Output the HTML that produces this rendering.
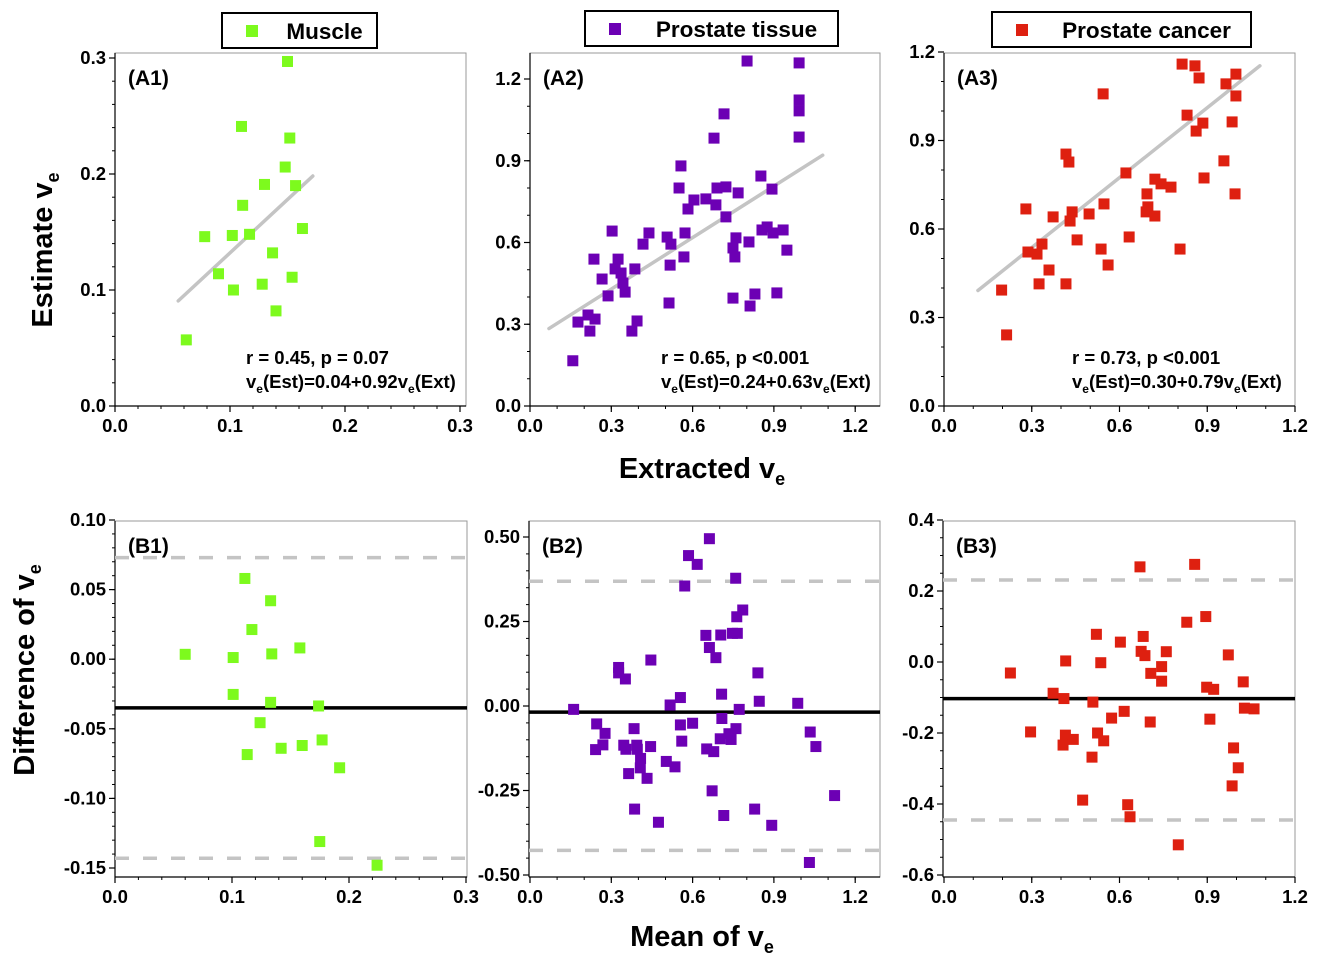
<!DOCTYPE html>
<html><head><meta charset="utf-8">
<style>
html,body{margin:0;padding:0;background:#fff;}
svg{display:block;font-family:"Liberation Sans",Arial,sans-serif;font-weight:bold;}
</style></head>
<body>
<svg id="fig" width="1322" height="972" viewBox="0 0 1322 972" xmlns="http://www.w3.org/2000/svg"></svg>
<script>
// ---------- DATA ----------
const a1X=[0.062,0.078,0.090,0.102,0.103,0.110,0.111,0.117,0.128,0.130,0.137,0.140,0.148,0.152,0.154,0.157,0.163,0.150];
const a1Y=[0.057,0.146,0.114,0.147,0.100,0.241,0.173,0.148,0.105,0.191,0.132,0.082,0.206,0.231,0.111,0.190,0.153,0.297];
const a2X=[0.158,0.177,0.214,0.221,0.240,0.236,0.266,0.288,0.303,0.314,0.325,0.336,0.343,0.351,0.376,0.395,0.387,0.417,0.439,0.506,0.520,0.517,0.513,0.550,0.557,0.568,0.572,0.583,0.605,0.649,0.679,0.686,0.690,0.716,0.723,0.723,0.749,0.760,0.756,0.749,0.768,0.801,0.808,0.812,0.830,0.852,0.856,0.875,0.893,0.897,0.911,0.934,0.948,0.993,0.993,0.993,0.993];
const a2Y=[0.166,0.308,0.334,0.275,0.319,0.539,0.466,0.404,0.642,0.503,0.539,0.488,0.451,0.418,0.275,0.312,0.503,0.594,0.635,0.620,0.594,0.517,0.378,0.800,0.881,0.547,0.635,0.723,0.756,0.760,0.983,0.738,0.800,1.072,0.804,0.694,0.580,0.617,0.547,0.396,0.782,1.266,0.602,0.367,0.411,0.844,0.646,0.657,0.796,0.635,0.415,0.646,0.572,1.259,1.123,1.083,0.987];
const a3X=[0.197,0.214,0.280,0.287,0.318,0.335,0.325,0.359,0.373,0.417,0.427,0.431,0.438,0.455,0.417,0.496,0.537,0.547,0.544,0.561,0.622,0.633,0.694,0.697,0.691,0.721,0.721,0.742,0.776,0.807,0.814,0.831,0.858,0.872,0.862,0.885,0.889,0.957,0.964,0.998,0.998,0.985,0.995];
const a3Y=[0.393,0.241,0.668,0.522,0.515,0.549,0.414,0.461,0.641,0.854,0.827,0.627,0.658,0.563,0.414,0.651,0.532,0.685,1.058,0.478,0.790,0.573,0.719,0.675,0.658,0.644,0.769,0.753,0.742,0.532,1.159,0.986,1.153,1.112,0.932,0.959,0.773,0.831,1.092,1.125,1.051,0.963,0.719];
const b1X=[0.060,0.111,0.133,0.117,0.101,0.134,0.158,0.101,0.133,0.174,0.124,0.113,0.142,0.160,0.177,0.192,0.175,0.224];
const b1Y=[0.0035,0.058,0.042,0.0213,0.0012,0.0038,0.0081,-0.0253,-0.031,-0.0336,-0.0456,-0.0685,-0.064,-0.062,-0.058,-0.078,-0.131,-0.148];
const b2X=[0.662,0.585,0.617,0.571,0.759,0.785,0.763,0.649,0.704,0.747,0.765,0.662,0.686,0.446,0.327,0.327,0.352,0.841,0.707,0.555,0.517,0.846,0.988,0.161,0.772,0.246,0.277,0.269,0.242,0.384,0.346,0.354,0.394,0.396,0.408,0.407,0.432,0.364,0.445,0.386,0.474,0.503,0.535,0.555,0.560,0.600,0.652,0.678,0.672,0.715,0.708,0.702,0.734,0.742,0.760,0.829,0.892,1.034,1.055,1.124,1.031];
const b2Y=[0.495,0.445,0.419,0.355,0.378,0.284,0.264,0.209,0.210,0.215,0.215,0.173,0.143,0.136,0.114,0.098,0.080,0.098,0.035,0.025,0.003,0.014,0.008,-0.010,-0.010,-0.053,-0.081,-0.115,-0.129,-0.067,-0.116,-0.128,-0.116,-0.128,-0.155,-0.183,-0.214,-0.200,-0.120,-0.305,-0.344,-0.164,-0.180,-0.056,-0.104,-0.051,-0.127,-0.135,-0.251,-0.324,-0.037,-0.097,-0.082,-0.099,-0.067,-0.305,-0.353,-0.077,-0.120,-0.265,-0.463];
const b3X=[0.670,0.857,0.895,0.830,0.521,0.681,0.603,0.674,0.687,0.760,0.972,0.416,0.536,0.227,0.744,0.707,0.744,1.023,0.898,0.922,0.373,0.410,0.509,1.027,1.060,0.616,0.573,0.909,0.705,0.296,0.415,0.442,0.525,0.546,0.407,0.506,0.990,1.006,0.985,0.474,0.628,0.636,0.801];
const b3Y=[0.268,0.275,0.128,0.112,0.078,0.072,0.056,0.030,0.018,0.029,0.020,0.003,-0.002,-0.031,-0.013,-0.032,-0.054,-0.056,-0.071,-0.077,-0.088,-0.103,-0.113,-0.130,-0.132,-0.139,-0.158,-0.161,-0.169,-0.197,-0.206,-0.218,-0.200,-0.222,-0.234,-0.268,-0.242,-0.298,-0.349,-0.389,-0.402,-0.436,-0.515];
const fitA1=[0.04,0.92], fitA2=[0.24,0.63], fitA3=[0.30,0.79];
const fitRangeA1=[0.055,0.172], fitRangeA2=[0.07,1.08], fitRangeA3=[0.116,1.08];
const meanB=[-0.035,-0.018,-0.103];
const loaB1=[0.073,-0.143], loaB2=[0.369,-0.427], loaB3=[0.231,-0.445];
const ticksSmall=["0.0","0.1","0.2","0.3"];
const ticksBig=["0.0","0.3","0.6","0.9","1.2"];
const ticksB1Y=["0.10","0.05","0.00","-0.05","-0.10","-0.15"];
const ticksB2Y=["0.50","0.25","0.00","-0.25","-0.50"];
const ticksB3Y=["0.4","0.2","0.0","-0.2","-0.4","-0.6"];

const NS="http://www.w3.org/2000/svg";
const svg=document.getElementById('fig');
function mk(tag,attrs,parent){const e=document.createElementNS(NS,tag);for(const k in attrs)e.setAttribute(k,attrs[k]);(parent||svg).appendChild(e);return e;}

const GREEN="#7dfa1d",PURPLE="#6c00b4",RED="#de2010";

function panel(o){
  const g=mk('g',{});
  
  
  const X=v=>o.x0+v*o.xs, Y=v=>o.y0-v*o.ys;
  const fr=mk('rect',{x:o.L,y:o.T,width:o.R-o.L,height:o.B-o.T,fill:'none',stroke:'#999','stroke-width':1},g);
  
  
  const ax=mk('line',{x1:o.L,y1:o.B,x2:o.R,y2:o.B,stroke:'#000','stroke-width':1.2},g);
  
  
  const ay=mk('line',{x1:o.L,y1:o.T,x2:o.L,y2:o.B,stroke:'#000','stroke-width':1.2},g);
  
  
  for(let v=0;v<=o.xmaxT+1e-9;v+=o.xminor){const px=X(v);if(px>o.R+1)break;mk('line',{x1:px,y1:o.B,x2:px,y2:o.B+3,stroke:'#000'},g);}
  o.xl.forEach((t,i)=>{const v=i*o.xstep,px=X(v);
    mk('line',{x1:px,y1:o.B,x2:px,y2:o.B+6,stroke:'#000','stroke-width':1.2},g);
    const tx=mk('text',{x:px,y:o.B+26,'text-anchor':'middle','font-size':18.5},g);tx.textContent=t;
    
    });
  for(let v=o.ymin;v<=o.ymaxT+1e-9;v+=o.yminor){const py=Y(v);mk('line',{x1:o.L,y1:py,x2:o.L-3,y2:py,stroke:'#000'},g);}
  o.yl.forEach((t,i)=>{const v=o.ytop-i*o.ystep,py=Y(v);
    mk('line',{x1:o.L,y1:py,x2:o.L-6,y2:py,stroke:'#000','stroke-width':1.2},g);
    const tx=mk('text',{x:o.L-9,y:py+6,'text-anchor':'end','font-size':18.5},g);tx.textContent=t;
    
    });
  if(o.fit){const l=mk('line',{x1:X(o.fr[0]),y1:Y(o.fit[0]+o.fit[1]*o.fr[0]),x2:X(o.fr[1]),y2:Y(o.fit[0]+o.fit[1]*o.fr[1]),stroke:'#c4c4c4','stroke-width':3.5,'stroke-linecap':'round'},g);
    
    }
  if(o.loa){o.loa.forEach(v=>{const l=mk('line',{x1:o.L,y1:Y(v),x2:o.R,y2:Y(v),stroke:'#c4c4c4','stroke-width':3.5,'stroke-dasharray':'14 14'},g);
    
    });
    const m=mk('line',{x1:o.L,y1:Y(o.mean),x2:o.R,y2:Y(o.mean),stroke:'#000','stroke-width':3.5},g);
    
    }
  o.xs_.forEach((xv,i)=>{const r=mk('rect',{x:X(xv)-5.5,y:Y(o.ys_[i])-5.5,width:11,height:11,fill:o.color},g);
    
    });
  const lb=mk('text',{x:o.L+13,y:o.T+32,'font-size':21},g);lb.textContent=o.label;
  
  
  if(o.stats){
    const s1=mk('text',{x:o.sx,y:364,'font-size':18.5},g);s1.textContent=o.stats[0];
    
    
    const s2=mk('text',{x:o.sx,y:388,'font-size':18.5},g);
    s2.innerHTML='v<tspan font-size="12" dy="5">e</tspan><tspan dy="-5">(Est)='+o.stats[1]+'v</tspan><tspan font-size="12" dy="5">e</tspan><tspan dy="-5">(Ext)</tspan>';
    
    
  }
}

const small={x0:115,xs:1150,xminor:0.02,xstep:0.1,xmaxT:0.3,xl:ticksSmall};
const big2={x0:530,xs:271,xminor:0.1,xstep:0.3,xmaxT:1.2,xl:ticksBig};
const big3={x0:944,xs:292.5,xminor:0.1,xstep:0.3,xmaxT:1.2,xl:ticksBig};

panel(Object.assign({},small,{name:'panel-a1',L:115,R:466,T:53,B:406,y0:406,ys:1160,ymin:0,ymaxT:0.3,yminor:0.02,ytop:0.3,ystep:0.1,yl:[...ticksSmall].reverse(),color:GREEN,xs_:a1X,ys_:a1Y,fit:fitA1,fr:fitRangeA1,label:'(A1)',stats:['r = 0.45, p = 0.07','0.04+0.92'],sx:246}));
panel(Object.assign({},big2,{name:'panel-a2',L:530,R:880,T:53,B:406,y0:406,ys:272.5,ymin:0,ymaxT:1.2,yminor:0.1,ytop:1.2,ystep:0.3,yl:[...ticksBig].reverse(),color:PURPLE,xs_:a2X,ys_:a2Y,fit:fitA2,fr:fitRangeA2,label:'(A2)',stats:['r = 0.65, p <0.001','0.24+0.63'],sx:661}));
panel(Object.assign({},big3,{name:'panel-a3',L:944,R:1295,T:53,B:406,y0:406,ys:295,ymin:0,ymaxT:1.2,yminor:0.1,ytop:1.2,ystep:0.3,yl:[...ticksBig].reverse(),color:RED,xs_:a3X,ys_:a3Y,fit:fitA3,fr:fitRangeA3,label:'(A3)',stats:['r = 0.73, p <0.001','0.30+0.79'],sx:1072}));
panel(Object.assign({},small,{name:'panel-b1',xs:1170,L:115,R:467,T:521,B:877,y0:659.2,ys:1392,ymin:-0.15,ymaxT:0.1,yminor:0.01,ytop:0.10,ystep:0.05,yl:ticksB1Y,color:GREEN,xs_:b1X,ys_:b1Y,loa:loaB1,mean:meanB[0],label:'(B1)'}));
panel(Object.assign({},big2,{name:'panel-b2',L:529,R:880,T:521,B:877,y0:706,ys:338,ymin:-0.5,ymaxT:0.5,yminor:0.05,ytop:0.5,ystep:0.25,yl:ticksB2Y,color:PURPLE,xs_:b2X,ys_:b2Y,loa:loaB2,mean:meanB[1],label:'(B2)'}));
panel(Object.assign({},big3,{name:'panel-b3',L:943,R:1295,T:521,B:877,y0:662,ys:355,ymin:-0.6,ymaxT:0.4,yminor:0.05,ytop:0.4,ystep:0.2,yl:ticksB3Y,color:RED,xs_:b3X,ys_:b3Y,loa:loaB3,mean:meanB[2],label:'(B3)'}));

[[222,13,155,'Muscle',GREEN,'legend-muscle'],[585,11,253,'Prostate tissue',PURPLE,'legend-prostate-tissue'],[992,12,259,'Prostate cancer',RED,'legend-prostate-cancer']].forEach(d=>{
  const g=mk('g',{});
  
  
  mk('rect',{x:d[0],y:d[1],width:d[2],height:35,fill:'#fff',stroke:'#000','stroke-width':2},g);
  mk('rect',{x:d[0]+24,y:d[1]+12,width:12,height:12,fill:d[4]},g);
  const t=mk('text',{x:d[0]+d[2]/2+25,y:d[1]+26,'text-anchor':'middle','font-size':22.5},g);t.textContent=d[3];
});
function title(html,x,y,rot,name){const t=mk('text',{x:x,y:y,'text-anchor':'middle','font-size':29,transform:rot?`rotate(-90 ${x} ${y})`:''});t.innerHTML=html;
  
  }
title('Estimate v<tspan font-size="18" dy="7">e</tspan>',52,250,true,'y-axis-title-top');
title('Extracted v<tspan font-size="18" dy="7">e</tspan>',702,478,false,'x-axis-title-top');
title('Difference of v<tspan font-size="18" dy="7">e</tspan>',34,670,true,'y-axis-title-bottom');
title('Mean of v<tspan font-size="18" dy="7">e</tspan>',702,946,false,'x-axis-title-bottom');
</script>
</body></html>
